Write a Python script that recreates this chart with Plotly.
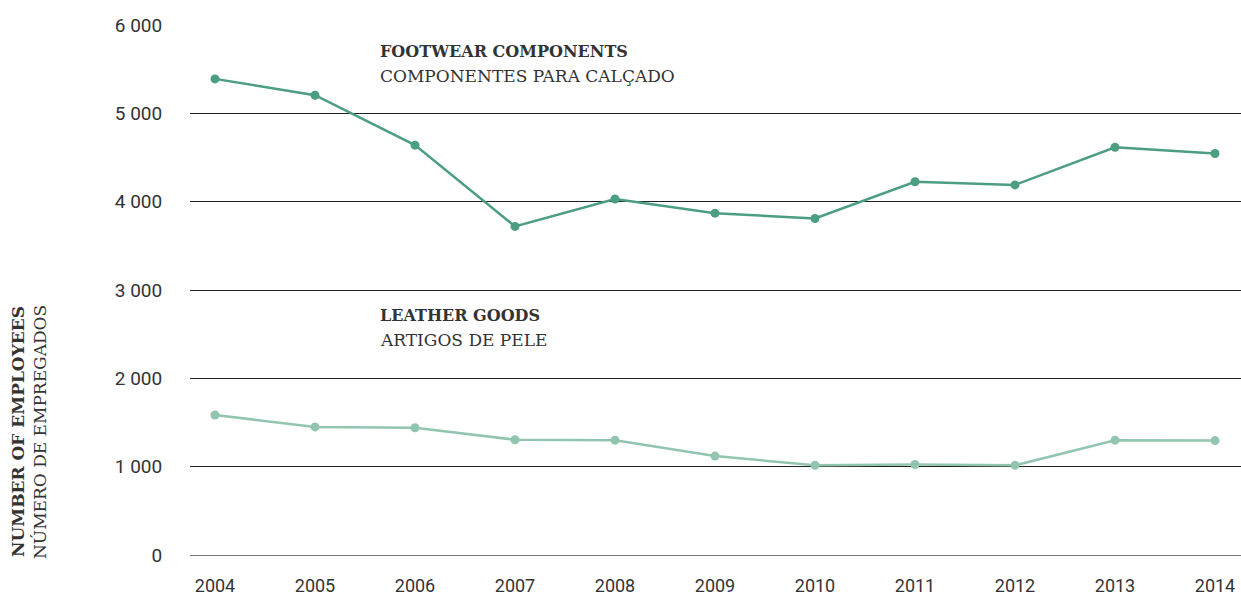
import plotly.graph_objects as go

# Employees per year, 2004-2014
years = [2004, 2005, 2006, 2007, 2008, 2009, 2010, 2011, 2012, 2013, 2014]
footwear_components = [5390, 5205, 4640, 3720, 4030, 3870, 3810, 4225, 4190, 4615, 4545]
leather_goods = [1585, 1450, 1440, 1305, 1300, 1120, 1015, 1025, 1015, 1300, 1295]

y_ticks = [0, 1000, 2000, 3000, 4000, 5000, 6000]
y_tick_labels = ["0", "1 000", "2 000", "3 000", "4 000", "5 000", "6 000"]

FOOTWEAR_COLOR = "#4b9e80"
LEATHER_COLOR = "#92c5b0"
TEXT_COLOR = "#333333"
SANS = "Roboto, 'DejaVu Sans', sans-serif"
SLAB = "'DejaVu Serif', serif"

fig = go.Figure()

fig.add_trace(go.Scatter(
    x=years, y=leather_goods, mode="lines+markers",
    line=dict(color=LEATHER_COLOR, width=2.5),
    marker=dict(color=LEATHER_COLOR, size=9),
    showlegend=False, cliponaxis=False,
))
fig.add_trace(go.Scatter(
    x=years, y=footwear_components, mode="lines+markers",
    line=dict(color=FOOTWEAR_COLOR, width=2.5),
    marker=dict(color=FOOTWEAR_COLOR, size=9),
    showlegend=False, cliponaxis=False,
))

# Series captions (bold English over regular Portuguese)
captions = [
    (5700, "FOOTWEAR COMPONENTS", "COMPONENTES PARA CALÇADO"),
    (2710, "LEATHER GOODS", "ARTIGOS DE PELE"),
]
for y_top, en, pt in captions:
    fig.add_annotation(
        x=2005.63, y=y_top, xref="x", yref="y", xanchor="left", yanchor="middle",
        text=f"<b>{en}</b>", showarrow=False,
        font=dict(family=SLAB, size=16, color=TEXT_COLOR),
    )
    fig.add_annotation(
        x=2005.63, y=y_top - 280, xref="x", yref="y", xanchor="left", yanchor="middle",
        text=pt, showarrow=False,
        font=dict(family=SLAB, size=17, color=TEXT_COLOR),
    )

# Two-line vertical axis title
fig.add_annotation(
    x=18, y=432, xref="paper", yref="paper", text="<b>NUMBER OF EMPLOYEES</b>",
    showarrow=False, textangle=-90, xanchor="center", yanchor="middle",
    font=dict(family=SLAB, size=17, color=TEXT_COLOR),
)
fig.add_annotation(
    x=40, y=432, xref="paper", yref="paper", text="NÚMERO DE EMPREGADOS",
    showarrow=False, textangle=-90, xanchor="center", yanchor="middle",
    font=dict(family=SLAB, size=17, color=TEXT_COLOR),
)

# convert pixel placements of the axis title into paper coordinates
W, H = 1241, 596
ML, MR, MT, MB = 190, 0, 25, 41
pw, ph = W - ML - MR, H - MT - MB
for ann in fig.layout.annotations[-2:]:
    ann.x = (ann.x - ML) / pw
    ann.y = (H - MB - ann.y) / ph

fig.update_layout(
    width=W, height=H,
    margin=dict(l=ML, r=MR, t=MT, b=MB, autoexpand=False),
    paper_bgcolor="white", plot_bgcolor="white",
    font=dict(family=SANS, size=18, color=TEXT_COLOR),
    xaxis=dict(
        range=[2003.75, 2014.26], tickvals=years, ticktext=[str(y) for y in years],
        showgrid=False, zeroline=False, showline=False, automargin=False,
        ticks="outside", ticklen=14, tickcolor="rgba(0,0,0,0)",
        tickfont=dict(family=SANS, size=18, color=TEXT_COLOR),
    ),
    yaxis=dict(
        range=[0, 6000], tickvals=y_ticks, ticktext=y_tick_labels,
        showgrid=True, gridcolor="#222222", gridwidth=1,
        zeroline=True, zerolinecolor="#777777", zerolinewidth=1,
        showline=False, automargin=False,
        ticks="outside", ticklen=23, tickcolor="rgba(0,0,0,0)",
        tickfont=dict(family=SANS, size=19, color=TEXT_COLOR),
    ),
)

fig.write_html("out.html")
